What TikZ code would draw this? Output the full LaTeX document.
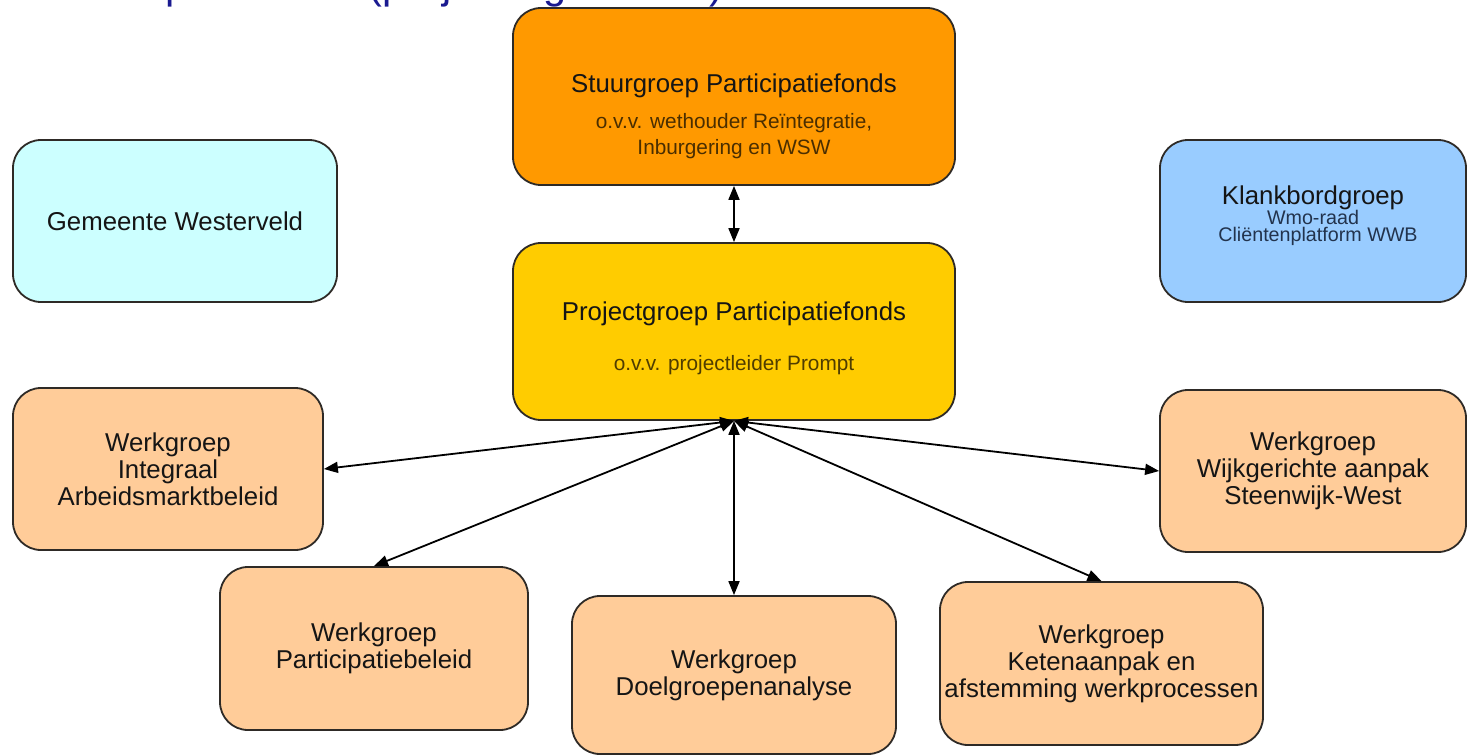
\documentclass[tikz,border=0pt]{standalone}
\usepackage{fontspec}
\setmainfont{Liberation Sans}
\usetikzlibrary{arrows.meta}
\definecolor{navytitle}{HTML}{1A1A90}
\definecolor{stuurfill}{HTML}{FF9900}
\definecolor{projfill}{HTML}{FFCC00}
\definecolor{werkfill}{HTML}{FFCC99}
\definecolor{gemfill}{HTML}{CCFFFF}
\definecolor{klankfill}{HTML}{99CCFF}
\definecolor{boxline}{HTML}{2E2A26}
\definecolor{stuursub}{HTML}{4A2E00}
\definecolor{projsub}{HTML}{4F3D00}
\definecolor{klanksub}{HTML}{22334D}
\definecolor{maintext}{HTML}{151515}
\begin{document}
\begin{tikzpicture}[x=1pt,y=-1pt,
  orgbox/.style={draw=boxline, line width=1.8pt, rounded corners=28pt, inner sep=0pt,
    align=center, text=maintext, font=\fontsize{25.8}{27}\selectfont},
  maintitle/.style={inner sep=0pt, anchor=base, text=maintext, font=\fontsize{25.8}{27}\selectfont},
  subtitle/.style={inner sep=0pt, anchor=base, font=\fontsize{20.8}{25}\selectfont},
  link/.style={line width=1.8pt, black, {Triangle[length=14pt,width=11pt]}-{Triangle[length=14pt,width=11pt]}}
]
\useasboundingbox (0,0) rectangle (1468,755);
\fill[white] (0,0) rectangle (1468,755);

% clipped title at the top
\node[anchor=base west, inner sep=0pt, text=navytitle, font=\fontsize{41.5}{45}\selectfont] (title) at (50,-2) {Participatiefonds (projectorganisatie)};

% boxes
\node[orgbox, fill=stuurfill, minimum width=442pt, minimum height=177pt] (stuur) at (734,96.5) {};
\node[orgbox, fill=projfill, minimum width=442pt, minimum height=177pt] (proj) at (734,331.5) {};
\node[orgbox, fill=gemfill, minimum width=324pt, minimum height=162pt] (gem) at (175,221) {Gemeente Westerveld};
\node[orgbox, fill=klankfill, minimum width=306pt, minimum height=162pt] (klank) at (1313,221) {};
\node[orgbox, fill=werkfill, minimum width=310pt, minimum height=162pt] (integ) at (168,469) {Werkgroep\\Integraal\\Arbeidsmarktbeleid};
\node[orgbox, fill=werkfill, minimum width=308pt, minimum height=163pt] (partic) at (374,648.5) {Werkgroep\\Participatiebeleid};
\node[orgbox, fill=werkfill, minimum width=324pt, minimum height=158pt] (doel) at (734,675) {Werkgroep\\Doelgroepenanalyse};
\node[orgbox, fill=werkfill, minimum width=323pt, minimum height=163pt] (keten) at (1101.5,663.5) {Werkgroep\\Ketenaanpak en\\afstemming werkprocessen};
\node[orgbox, fill=werkfill, minimum width=306pt, minimum height=162pt] (wijk) at (1313,471) {Werkgroep\\Wijkgerichte aanpak\\Steenwijk-West};

% texts of the boxes with separate layout
\node[maintitle] (stuurt) at (734,92) {Stuurgroep Participatiefonds};
\node[subtitle, text=stuursub] (stuurs1) at (734,128) {o.v.v. wethouder Reïntegratie,};
\node[subtitle, text=stuursub] (stuurs2) at (734,154) {Inburgering en WSW};
\node[maintitle] (projt) at (734,320) {Projectgroep Participatiefonds};
\node[subtitle, text=projsub] (projs) at (734,370) {o.v.v. projectleider Prompt};
\node[maintitle] (klankt) at (1313,204) {Klankbordgroep};
\node[subtitle, text=klanksub, font=\fontsize{19.7}{20}\selectfont] (klanks1) at (1313,224) {Wmo-raad};
\node[subtitle, text=klanksub, font=\fontsize{19.7}{20}\selectfont] (klanks2) at (1318,241) {Cliëntenplatform WWB};

% connectors
\draw[link] (stuur.south) -- (proj.north);
\draw[link] (proj.south) -- (integ.east);
\draw[link] (proj.south) -- (partic.north);
\draw[link] (proj.south) -- (doel.north);
\draw[link] (proj.south) -- (keten.north);
\draw[link] (proj.south) -- (wijk.west);
\end{tikzpicture}
\end{document}
